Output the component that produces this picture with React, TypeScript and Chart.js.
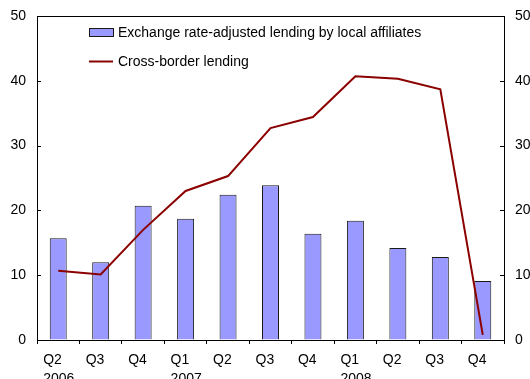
import React, { useEffect, useRef } from "react";
import { Chart, registerables } from "chart.js";

Chart.register(...registerables);

const categories: (string | string[])[] = [
  ["Q2", "2006"], "Q3", "Q4", ["Q1", "2007"], "Q2", "Q3", "Q4", ["Q1", "2008"], "Q2", "Q3", "Q4",
];
const localAffiliates = [15.7, 12.0, 20.7, 18.7, 22.4, 23.9, 16.4, 18.4, 14.2, 12.8, 9.1];
const crossBorder = [10.7, 10.1, 17.0, 23.0, 25.3, 32.7, 34.4, 40.7, 40.3, 38.7, 0.8];
const yTicks = [0, 10, 20, 30, 40, 50];
const seriesNames = [
  "Exchange rate-adjusted lending by local affiliates",
  "Cross-border lending",
];

const FONT = "'Liberation Sans', Arial, sans-serif";
const BAR_FILL = "#9999ff";
const BAR_EDGE = "#1a1a1a";
const LINE_COLOR = "#8b0000";

const framePlugin = {
  id: "frameAndLegend",
  afterDraw(chart: any) {
    const { ctx, chartArea } = chart;
    const y = chart.scales.y;
    ctx.save();
    ctx.strokeStyle = "#000";
    ctx.lineWidth = 1;
    // top frame line
    ctx.beginPath();
    ctx.moveTo(chartArea.left, Math.round(chartArea.top) + 0.5);
    ctx.lineTo(chartArea.right, Math.round(chartArea.top) + 0.5);
    ctx.stroke();
    // inward ticks on both y axes
    yTicks.forEach((v) => {
      const py = Math.round(y.getPixelForValue(v)) + 0.5;
      ctx.beginPath();
      ctx.moveTo(chartArea.left, py);
      ctx.lineTo(chartArea.left + 4, py);
      ctx.moveTo(chartArea.right - 4, py);
      ctx.lineTo(chartArea.right, py);
      ctx.stroke();
    });
    // legend
    ctx.fillStyle = BAR_FILL;
    ctx.fillRect(89.5, 28.5, 24, 8);
    ctx.strokeStyle = BAR_EDGE;
    ctx.strokeRect(89.5, 28.5, 24, 8);
    ctx.strokeStyle = LINE_COLOR;
    ctx.lineWidth = 2;
    ctx.beginPath();
    ctx.moveTo(89, 61.5);
    ctx.lineTo(113, 61.5);
    ctx.stroke();
    ctx.fillStyle = "#000";
    ctx.font = `14px ${FONT}`;
    ctx.textBaseline = "middle";
    ctx.textAlign = "left";
    ctx.fillText(seriesNames[0], 118, 33);
    ctx.fillText(seriesNames[1], 118, 62);
    ctx.restore();
  },
};

export default function App() {
  const ref = useRef<HTMLCanvasElement | null>(null);
  useEffect(() => {
    if (!ref.current) return;
    const tickFont = { family: FONT, size: 14 };
    const chart = new Chart(ref.current, {
      type: "bar",
      data: {
        labels: categories as any,
        datasets: [
          {
            type: "line",
            label: seriesNames[1],
            data: crossBorder,
            borderColor: LINE_COLOR,
            borderWidth: 2,
            pointRadius: 0,
            tension: 0,
            fill: false,
            order: 0,
            yAxisID: "y",
          } as any,
          {
            type: "bar",
            label: seriesNames[0],
            data: localAffiliates,
            backgroundColor: BAR_FILL,
            borderColor: BAR_EDGE,
            borderWidth: 1,
            barPercentage: 0.4,
            categoryPercentage: 1,
            order: 1,
            yAxisID: "y",
          },
        ],
      },
      options: {
        responsive: false,
        animation: false,
        devicePixelRatio: 1,
        layout: { padding: { top: 16, left: 0, right: 0, bottom: 0 } },
        plugins: { legend: { display: false }, tooltip: { enabled: false } },
        scales: {
          x: {
            offset: true,
            grid: {
              offset: true,
              drawOnChartArea: false,
              drawTicks: true,
              tickLength: 4,
              tickColor: "#000",
              color: "#000",
            },
            border: { display: true, color: "#000", width: 1 },
            ticks: {
              font: { family: FONT, size: 14, lineHeight: 1.4 },
              color: "#000",
              align: "start",
              labelOffset: -15,
              maxRotation: 0,
              autoSkip: false,
              padding: 6,
            },
            afterFit: (s: any) => {
              s.height = 60;
            },
          },
          y: {
            position: "left",
            min: 0,
            max: 50,
            grid: { drawOnChartArea: false, drawTicks: false },
            border: { display: true, color: "#000", width: 1 },
            ticks: { stepSize: 10, font: tickFont, color: "#000", padding: 11 },
            afterFit: (s: any) => {
              s.width = 37;
              s.paddingTop = 0;
              s.paddingBottom = 0;
            },
          },
          y2: {
            position: "right",
            min: 0,
            max: 50,
            grid: { drawOnChartArea: false, drawTicks: false },
            border: { display: true, color: "#000", width: 1 },
            ticks: { stepSize: 10, font: tickFont, color: "#000", padding: 11 },
            afterFit: (s: any) => {
              s.width = 26;
              s.paddingTop = 0;
              s.paddingBottom = 0;
            },
          },
        },
      },
      plugins: [framePlugin],
    });
    return () => chart.destroy();
  }, []);
  return (
    <div style={{ position: "fixed", left: 0, top: 0, width: 530, height: 400 }}>
      <canvas ref={ref} width={530} height={400} style={{ width: 530, height: 400, display: "block" }} />
    </div>
  );
}
